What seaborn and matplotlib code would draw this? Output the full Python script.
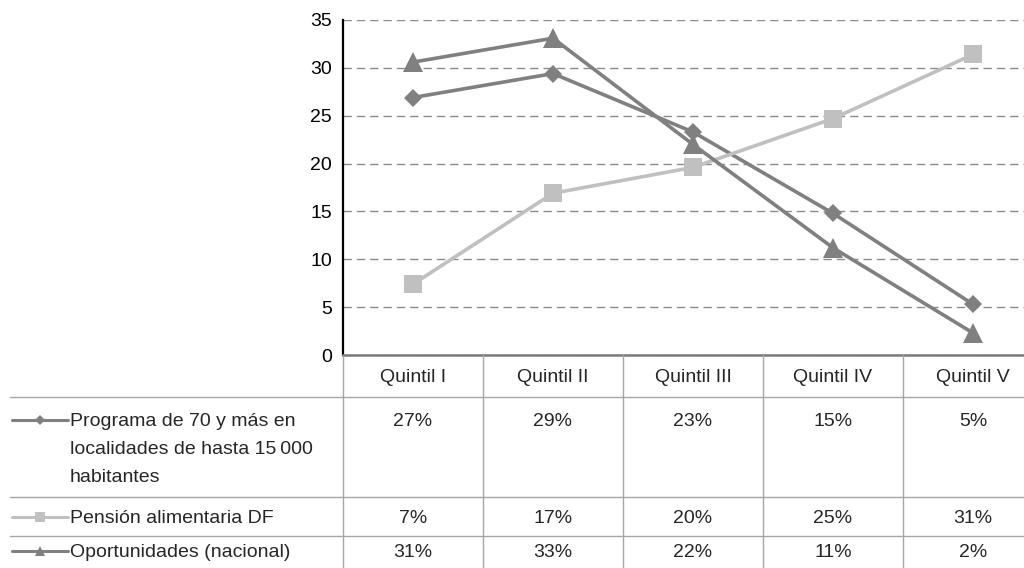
import matplotlib
matplotlib.use("Agg")
import matplotlib.pyplot as plt
import pandas as pd
import seaborn as sns
from matplotlib.lines import Line2D
from matplotlib.transforms import blended_transform_factory

# Share of beneficiaries by income quintile (%)
quintiles = ["Quintil I", "Quintil II", "Quintil III", "Quintil IV", "Quintil V"]
programa_70 = [26.9, 29.4, 23.3, 14.8, 5.3]
pension_df = [7.4, 16.9, 19.6, 24.7, 31.4]
oportunidades = [30.6, 33.1, 22.0, 11.2, 2.3]

series_labels = [
    "Programa de 70 y más en\nlocalidades de hasta 15\u2009000\nhabitantes",
    "Pensión alimentaria DF",
    "Oportunidades (nacional)",
]
y_ticks = [0, 5, 10, 15, 20, 25, 30, 35]

sns.set_style("white")
plt.rcParams["font.family"] = ["Liberation Sans", "DejaVu Sans"]
FS = 14

W, H = 1024, 568
fig = plt.figure(figsize=(W / 100, H / 100), dpi=100)


def fx(px):
    return px / W


def fy(px):
    return 1 - px / H


ax = fig.add_axes([fx(343), fy(355), fx(700), 335 / H])

df = pd.DataFrame({
    "quintil": quintiles * 3,
    "valor": programa_70 + pension_df + oportunidades,
    "serie": [series_labels[0]] * 5 + [series_labels[1]] * 5 + [series_labels[2]] * 5,
})

styles = {
    series_labels[0]: dict(color="#808080", marker="D", ms=9.5),
    series_labels[1]: dict(color="#c0c0c0", marker="s", ms=13),
    series_labels[2]: dict(color="#808080", marker="^", ms=14),
}

for name in series_labels:
    st = styles[name]
    sns.lineplot(
        data=df[df["serie"] == name], x="quintil", y="valor", ax=ax,
        color=st["color"], marker=st["marker"], markersize=st["ms"],
        markeredgewidth=0, linewidth=2.6, sort=False, legend=False,
    )

ax.set_xlim(-0.5, len(quintiles) - 0.5)
ax.set_ylim(0, 35)
ax.set_yticks(y_ticks)
ax.set_xticks([])
ax.set_xlabel("")
ax.set_ylabel("")
ax.tick_params(axis="y", length=0, pad=8, labelsize=FS, labelcolor="black")
ax.yaxis.grid(True, color="#8c8c8c", linestyle=(0, (6, 3.6)), linewidth=1)
ax.xaxis.grid(False)
ax.set_axisbelow(True)
for side in ("top", "right"):
    ax.spines[side].set_visible(False)
ax.spines["left"].set_color("black")
ax.spines["left"].set_linewidth(1.6)
ax.spines["bottom"].set_color("#7a7a7a")
ax.spines["bottom"].set_linewidth(1.8)

# Data table under the plot
tr = blended_transform_factory(ax.transData, fig.transFigure)
grid_c = "#a6a6a6"

for i in range(len(quintiles) + 1):
    fig.add_artist(Line2D([i - 0.5, i - 0.5], [fy(355), fy(H)], transform=tr,
                          color=grid_c, linewidth=1))
for ypx in (397, 497, 536):
    fig.add_artist(Line2D([fx(10), 1], [fy(ypx), fy(ypx)], transform=fig.transFigure,
                          color=grid_c, linewidth=1))

for i, q in enumerate(quintiles):
    fig.text(i, fy(377), q, transform=tr, ha="center", va="center", fontsize=FS)

row_tops = [413, 510, 544]
row_keys = [420, 517, 551]
for values, name, top, key_y in zip((programa_70, pension_df, oportunidades),
                                    series_labels, row_tops, row_keys):
    st = styles[name]
    for i, v in enumerate(values):
        fig.text(i, fy(top), f"{v:.0f}%", transform=tr, ha="center", va="top",
                 fontsize=FS)
    fig.text(fx(70), fy(top), name, ha="left", va="top", fontsize=FS,
             linespacing=1.86)
    fig.add_artist(Line2D([fx(12), fx(68)], [fy(key_y), fy(key_y)],
                          transform=fig.transFigure, color=st["color"], linewidth=2.2))
    fig.add_artist(Line2D([fx(40)], [fy(key_y)], transform=fig.transFigure,
                          color=st["color"], marker=st["marker"],
                          markersize=st["ms"] * 0.55, markeredgewidth=0))

fig.savefig("out.png", dpi=100)
